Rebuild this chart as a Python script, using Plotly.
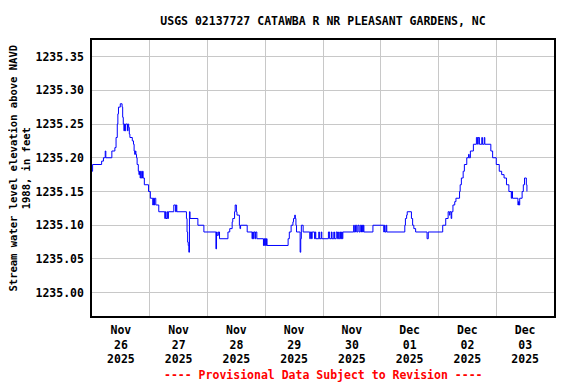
import plotly.graph_objects as go

# ---- data (15-minute gage readings, change points) ----
times = [
    "11-26 00:00", "11-26 00:15", "11-26 04:00", "11-26 04:45", "11-26 05:30", "11-26 05:45",
    "11-26 08:15", "11-26 09:30", "11-26 10:00", "11-26 10:30", "11-26 10:45", "11-26 11:00",
    "11-26 11:45", "11-26 12:30", "11-26 12:45", "11-26 13:00", "11-26 13:15", "11-26 13:30",
    "11-26 13:45", "11-26 14:00", "11-26 14:45", "11-26 15:00", "11-26 15:15", "11-26 15:30",
    "11-26 15:45", "11-26 16:45", "11-26 17:15", "11-26 17:30", "11-26 17:45", "11-26 18:00",
    "11-26 18:15", "11-26 18:30", "11-26 18:45", "11-26 19:15", "11-26 19:30", "11-26 19:45",
    "11-26 20:00", "11-26 20:15", "11-26 20:30", "11-26 21:00", "11-26 21:15", "11-26 21:45",
    "11-26 23:30",
    "11-27 00:15", "11-27 01:15", "11-27 01:30", "11-27 01:45", "11-27 02:00", "11-27 02:30",
    "11-27 03:45", "11-27 06:15", "11-27 06:30", "11-27 06:45", "11-27 07:15", "11-27 07:30",
    "11-27 07:45", "11-27 10:00", "11-27 10:45", "11-27 11:00", "11-27 11:15", "11-27 15:15",
    "11-27 15:30", "11-27 15:45", "11-27 16:00", "11-27 16:15", "11-27 16:30", "11-27 16:45",
    "11-27 20:00", "11-27 22:30",
    "11-28 03:30", "11-28 03:45", "11-28 04:00", "11-28 04:30", "11-28 05:00", "11-28 08:30",
    "11-28 09:15", "11-28 10:15", "11-28 10:30", "11-28 11:15", "11-28 11:30", "11-28 12:00",
    "11-28 12:15", "11-28 13:15", "11-28 13:30", "11-28 13:45", "11-28 16:30", "11-28 18:30",
    "11-28 18:45", "11-28 19:00", "11-28 19:15", "11-28 19:45", "11-28 20:00", "11-28 20:30",
    "11-28 23:15", "11-28 23:30", "11-28 23:45",
    "11-29 00:00", "11-29 00:15", "11-29 00:30", "11-29 00:45", "11-29 09:30", "11-29 10:00",
    "11-29 10:45", "11-29 11:30", "11-29 11:45", "11-29 12:15", "11-29 12:30", "11-29 12:45",
    "11-29 13:00", "11-29 14:30", "11-29 14:45", "11-29 15:00", "11-29 15:45", "11-29 18:30",
    "11-29 18:45", "11-29 19:15", "11-29 19:30", "11-29 20:30", "11-29 20:45", "11-29 21:00",
    "11-29 22:15", "11-29 22:30", "11-29 23:15", "11-29 23:30",
    "11-30 02:15", "11-30 02:45", "11-30 03:30", "11-30 03:45", "11-30 04:30", "11-30 04:45",
    "11-30 05:30", "11-30 06:00", "11-30 06:30", "11-30 06:45", "11-30 07:15", "11-30 07:30",
    "11-30 07:45", "11-30 08:00", "11-30 08:15", "11-30 12:45", "11-30 13:00", "11-30 13:30",
    "11-30 14:00", "11-30 14:30", "11-30 15:00", "11-30 15:30", "11-30 16:00", "11-30 16:15",
    "11-30 16:30", "11-30 16:45", "11-30 17:00", "11-30 20:45",
    "12-01 01:15", "12-01 01:30", "12-01 01:45", "12-01 02:15", "12-01 02:30", "12-01 10:00",
    "12-01 10:15", "12-01 10:45", "12-01 11:00", "12-01 12:45", "12-01 13:15", "12-01 13:45",
    "12-01 14:30", "12-01 19:15", "12-01 19:45",
    "12-02 01:45", "12-02 03:00", "12-02 04:00", "12-02 04:30", "12-02 04:45", "12-02 05:15",
    "12-02 05:30", "12-02 06:00", "12-02 06:45", "12-02 07:15", "12-02 08:45", "12-02 09:00",
    "12-02 09:30", "12-02 10:15", "12-02 10:45", "12-02 11:45", "12-02 12:30", "12-02 12:45",
    "12-02 13:15", "12-02 14:30", "12-02 15:45", "12-02 16:15", "12-02 16:30", "12-02 17:00",
    "12-02 18:00", "12-02 18:15", "12-02 19:00", "12-02 19:15", "12-02 21:45", "12-02 22:30",
    "12-03 00:00", "12-03 01:15", "12-03 02:15", "12-03 03:15", "12-03 04:15", "12-03 05:15",
    "12-03 06:15", "12-03 06:30", "12-03 06:45", "12-03 09:00", "12-03 09:15", "12-03 09:30",
    "12-03 09:45", "12-03 10:45", "12-03 11:15", "12-03 11:45", "12-03 12:30", "12-03 12:45",
]
elevation = [
    1235.18, 1235.19, 1235.195, 1235.20, 1235.21, 1235.20,
    1235.21, 1235.215, 1235.23, 1235.25, 1235.265, 1235.275,
    1235.28, 1235.275, 1235.26, 1235.25, 1235.24, 1235.25,
    1235.24, 1235.25, 1235.24, 1235.25, 1235.245, 1235.235,
    1235.23, 1235.225, 1235.22, 1235.21, 1235.205, 1235.21,
    1235.205, 1235.20, 1235.19, 1235.18, 1235.175, 1235.18,
    1235.17, 1235.18, 1235.17, 1235.18, 1235.17, 1235.16,
    1235.15,
    1235.14, 1235.13, 1235.14, 1235.13, 1235.14, 1235.13,
    1235.12, 1235.11, 1235.12, 1235.11, 1235.12, 1235.11,
    1235.12, 1235.13, 1235.12, 1235.13, 1235.12, 1235.11,
    1235.09, 1235.075, 1235.07, 1235.06, 1235.12, 1235.11,
    1235.10, 1235.09,
    1235.065, 1235.09, 1235.085, 1235.09, 1235.08, 1235.09,
    1235.095, 1235.105, 1235.11, 1235.12, 1235.13, 1235.12,
    1235.115, 1235.10, 1235.095, 1235.10, 1235.09, 1235.08,
    1235.09, 1235.08, 1235.09, 1235.08, 1235.09, 1235.08,
    1235.07, 1235.08, 1235.07,
    1235.08, 1235.07, 1235.08, 1235.07, 1235.08, 1235.09,
    1235.10, 1235.105, 1235.11, 1235.115, 1235.11, 1235.10,
    1235.09, 1235.06, 1235.08, 1235.10, 1235.09, 1235.08,
    1235.09, 1235.08, 1235.09, 1235.08, 1235.09, 1235.08,
    1235.09, 1235.08, 1235.09, 1235.08,
    1235.09, 1235.08, 1235.09, 1235.08, 1235.09, 1235.08,
    1235.09, 1235.08, 1235.09, 1235.08, 1235.09, 1235.08,
    1235.09, 1235.08, 1235.09, 1235.10, 1235.09, 1235.10,
    1235.09, 1235.10, 1235.09, 1235.10, 1235.09, 1235.10,
    1235.09, 1235.10, 1235.09, 1235.10,
    1235.09, 1235.10, 1235.09, 1235.10, 1235.09, 1235.10,
    1235.11, 1235.115, 1235.12, 1235.11, 1235.10, 1235.095,
    1235.09, 1235.08, 1235.09,
    1235.10, 1235.11, 1235.12, 1235.115, 1235.12, 1235.11,
    1235.12, 1235.13, 1235.135, 1235.14, 1235.15, 1235.16,
    1235.17, 1235.18, 1235.19, 1235.20, 1235.205, 1235.20,
    1235.21, 1235.22, 1235.23, 1235.22, 1235.23, 1235.22,
    1235.23, 1235.22, 1235.23, 1235.22, 1235.21, 1235.20,
    1235.19, 1235.18, 1235.175, 1235.17, 1235.16, 1235.15,
    1235.14, 1235.15, 1235.14, 1235.13, 1235.135, 1235.13,
    1235.14, 1235.15, 1235.16, 1235.17, 1235.16, 1235.15,
]
day_ticks = ["2025-11-26", "2025-11-27", "2025-11-28", "2025-11-29",
             "2025-11-30", "2025-12-01", "2025-12-02", "2025-12-03"]
day_labels = ["Nov<br>26<br>2025", "Nov<br>27<br>2025", "Nov<br>28<br>2025", "Nov<br>29<br>2025",
              "Nov<br>30<br>2025", "Dec<br>01<br>2025", "Dec<br>02<br>2025", "Dec<br>03<br>2025"]
y_ticks = [1235.00, 1235.05, 1235.10, 1235.15, 1235.20, 1235.25, 1235.30, 1235.35]

x = ["2025-" + t for t in times]
label_pos = [d + " 12:00" for d in day_ticks]
midnights = day_ticks + ["2025-12-04"]

FONT = "DejaVu Sans Mono"
# page body adds an 8px offset, so the figure is 8px smaller and margins shifted
W, H = 568, 376
L, R, T, B = 84, 22, 32, 68
PW, PH = W - L - R, H - T - B

fig = go.Figure()
fig.add_trace(go.Scatter(x=x, y=elevation, mode="lines", line_shape="hv",
                         line=dict(color="#0000ff", width=1), showlegend=False))

fig.update_layout(
    width=W, height=H,
    margin=dict(l=L, r=R, t=T, b=B, autoexpand=False),
    paper_bgcolor="white", plot_bgcolor="white",
    title=dict(text="<b>USGS 02137727 CATAWBA R NR PLEASANT GARDENS, NC</b>",
               x=0.5, xref="paper", xanchor="center",
               y=1 - 12.5 / H, yref="container", yanchor="middle",
               font=dict(family=FONT, size=11.5, color="black")),
    font=dict(family=FONT, color="black"),
)
fig.update_xaxes(
    type="date", range=["2025-11-26", "2025-12-04"], automargin=False,
    tickmode="array", tickvals=label_pos, ticktext=day_labels,
    showgrid=False, ticks="", ticklen=0, ticklabelstandoff=2,
    tickfont=dict(family=FONT, size=11.5, weight="bold", color="black"),
    showline=True, linecolor="black", linewidth=1.5, mirror=True,
    minor=dict(tickmode="array", tickvals=midnights, showgrid=True,
               gridcolor="#c8c8c8", gridwidth=1, ticks=""),
    zeroline=False,
)
fig.update_yaxes(
    range=[1234.9655, 1235.3745], automargin=False,
    tickmode="array", tickvals=y_ticks, tickformat=".2f",
    showgrid=True, gridcolor="#c8c8c8", gridwidth=1,
    ticks="", ticklabelstandoff=4,
    tickfont=dict(family=FONT, size=11.5, weight="bold", color="black"),
    showline=True, linecolor="black", linewidth=1.5, mirror=True,
    zeroline=False,
)
fig.add_annotation(
    text="<b>Stream water level elevation above NAVD<br>1988, in feet</b>",
    xref="paper", yref="paper", x=(11.5 - L) / PW, y=(T + PH - 160) / PH,
    xanchor="center", yanchor="middle", textangle=-90, showarrow=False,
    font=dict(family=FONT, size=10.5, color="black"),
)
fig.add_annotation(
    text="<b>---- Provisional Data Subject to Revision ----</b>",
    xref="paper", yref="paper", x=0.5, y=(T + PH - 367) / PH,
    xanchor="center", yanchor="middle", showarrow=False,
    font=dict(family=FONT, size=11.5, color="#ff0000"),
)
fig.write_html("out.html")
